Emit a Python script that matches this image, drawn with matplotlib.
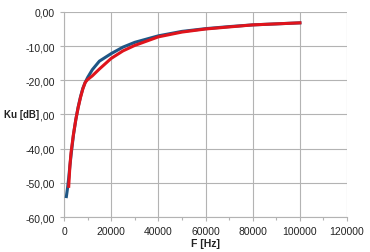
import matplotlib
matplotlib.use("Agg")
import matplotlib.pyplot as plt
from matplotlib.ticker import FuncFormatter, MultipleLocator

freq_blue = [1000, 1500, 2000, 2500, 3000, 4000, 5000, 6000, 7000, 8000,
             9000, 10000, 12000, 15000, 20000, 25000, 30000, 40000,
             50000, 60000, 70000, 80000, 90000, 100000]
ku_blue = [-54.0, -51.5, -48.5, -45.0, -41.8, -36.0, -31.5, -27.8, -24.8,
           -22.3, -20.6, -19.2, -16.9, -14.4, -12.2, -10.3, -8.9, -7.0,
           -5.7, -4.9, -4.3, -3.8, -3.5, -3.2]

freq_red = [2000, 2500, 3000, 4000, 5000, 6000, 7000, 8000, 9000, 10000,
            12000, 15000, 20000, 25000, 30000, 40000, 50000, 60000,
            70000, 80000, 90000, 100000]
ku_red = [-51.0, -45.0, -41.0, -35.8, -31.5, -28.0, -25.0, -22.5, -20.6,
          -19.8, -18.7, -16.7, -13.6, -11.4, -9.8, -7.3, -5.9, -5.0,
          -4.4, -3.8, -3.5, -3.2]

plt.rcParams['font.family'] = ['Liberation Sans', 'DejaVu Sans']

fig = plt.figure(figsize=(3.70, 2.53), dpi=100)
ax = fig.add_axes([0.173, 0.138, 0.765, 0.811])

ax.plot(freq_blue, ku_blue, color='#1f5685', lw=2.2, zorder=3,
        solid_joinstyle='round')
ax.plot(freq_red, ku_red, color='#e0141c', lw=2.2, zorder=4,
        solid_joinstyle='round')

ax.set_xlim(0, 120000)
ax.set_ylim(-60, 0)
ax.xaxis.set_major_locator(MultipleLocator(20000))
ax.xaxis.set_minor_locator(MultipleLocator(10000))
ax.yaxis.set_major_locator(MultipleLocator(10))
ax.yaxis.set_major_formatter(FuncFormatter(lambda v, p: f"{v:.2f}".replace('.', ',')))
ax.xaxis.set_major_formatter(FuncFormatter(lambda v, p: f"{v:.0f}"))

ax.grid(True, which='major', color='#b3b3b3', lw=0.8)
for s in ['top', 'right']:
    ax.spines[s].set_visible(False)
for s in ['left', 'bottom']:
    ax.spines[s].set_color('#b3b3b3')
    ax.spines[s].set_linewidth(0.8)
ax.tick_params(which='both', colors='#b3b3b3', labelcolor='#222222',
               labelsize=7.5, length=3, width=0.8)
ax.tick_params(which='minor', length=2)

# y label sits over the tick labels, hiding the minus of -30,00 as in the original
fig.text(0.011, 0.545, 'Ku [dB]', fontsize=7, fontweight='bold',
         ha='left', va='center', color='#222222', zorder=10,
         bbox=dict(facecolor='white', edgecolor='none', pad=0.3))
fig.text(0.556, 0.036, 'F [Hz]', fontsize=7.5, fontweight='bold',
         ha='center', va='center', color='#222222')

fig.savefig('out.png', dpi=100)
